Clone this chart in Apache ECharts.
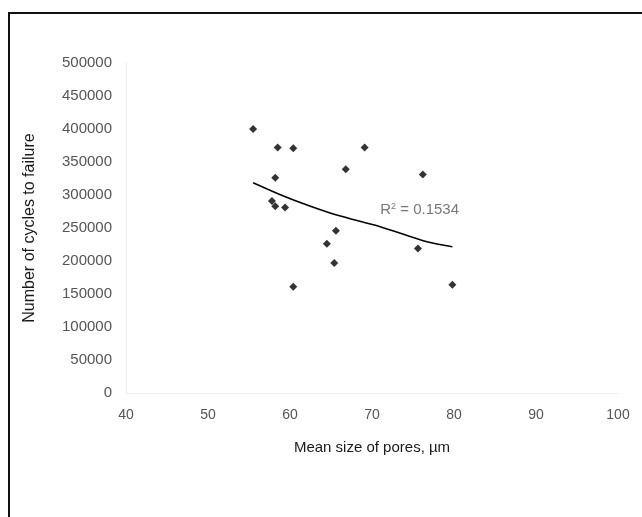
<!DOCTYPE html>
<html>
<head>
<meta charset="utf-8">
<script src="https://cdn.jsdelivr.net/npm/echarts@6/dist/echarts.min.js"></script>
<style>
html,body{margin:0;padding:0;background:#fff;}
#chart{width:642px;height:517px;}
</style>
</head>
<body>
<div id="chart"></div>
<script>
const poreSize = [55.5, 58.5, 60.4, 69.1, 66.8, 76.2, 58.2, 57.8, 58.2, 59.4, 65.6, 64.5, 75.6, 65.4, 60.4, 79.8];
const cycles   = [400000, 372000, 371000, 372000, 339000, 331000, 326000, 291000, 283000, 281000, 246000, 226000, 219000, 197000, 161000, 164000];
// Trend line points
const trendX = [55.5, 59.2, 62.5, 65.7, 71.0, 76.7, 79.8];
const trendY = [318600, 298500, 283000, 269700, 252000, 229200, 221700];
const r2Label = 'R';
const r2Value = ' = 0.1534';
const r2Pos = [71.0, 277000];
const xName = 'Mean size of pores, µm';
const yName = 'Number of cycles to failure';

const chart = echarts.init(document.getElementById('chart'));
const font = '"Liberation Sans", Arial, sans-serif';
chart.setOption({
  backgroundColor: '#fff',
  animation: false,
  grid: {left: 126, right: 24, top: 63, bottom: 124},
  graphic: [{
    type: 'rect', shape: {x: 9, y: 13, width: 700, height: 600},
    style: {fill: 'none', stroke: '#111', lineWidth: 2}, silent: true
  }],
  xAxis: {
    type: 'value', min: 40, max: 100, interval: 10,
    name: xName, nameLocation: 'middle', nameGap: 47,
    nameTextStyle: {fontFamily: font, fontSize: 15, color: '#1a1a1a'},
    axisLine: {show: true, lineStyle: {color: '#f0f0f0'}},
    axisTick: {show: false},
    splitLine: {show: false},
    axisLabel: {fontFamily: font, fontSize: 14, color: '#555', margin: 15}
  },
  yAxis: {
    type: 'value', min: 0, max: 500000, interval: 50000,
    name: yName, nameLocation: 'middle', nameGap: 88,
    nameTextStyle: {fontFamily: font, fontSize: 16, color: '#1a1a1a'},
    axisLine: {show: true, lineStyle: {color: '#ececec'}},
    axisTick: {show: false},
    splitLine: {show: false},
    axisLabel: {fontFamily: font, fontSize: 15, color: '#555', margin: 14,
      formatter: v => String(v)}
  },
  series: [
    {
      type: 'scatter', symbol: 'diamond', symbolSize: 8,
      itemStyle: {color: '#000'},
      data: poreSize.map((x, i) => [x, cycles[i]])
    },
    {
      type: 'line', smooth: 0.3, showSymbol: false, symbol: 'none',
      lineStyle: {color: '#000', width: 1.5},
      data: trendX.map((x, i) => [x, trendY[i]])
    },
    {
      type: 'scatter', symbolSize: 0,
      data: [r2Pos],
      label: {
        show: true, position: 'right', distance: 0,
        formatter: '{a|' + r2Label + '}{b|2}{a|' + r2Value + '}',
        rich: {
          a: {fontFamily: font, fontSize: 15, color: '#555'},
          b: {fontFamily: font, fontSize: 9, color: '#555', padding: [0, 0, 8, 0]}
        }
      }
    }
  ]
});
</script>
</body>
</html>
